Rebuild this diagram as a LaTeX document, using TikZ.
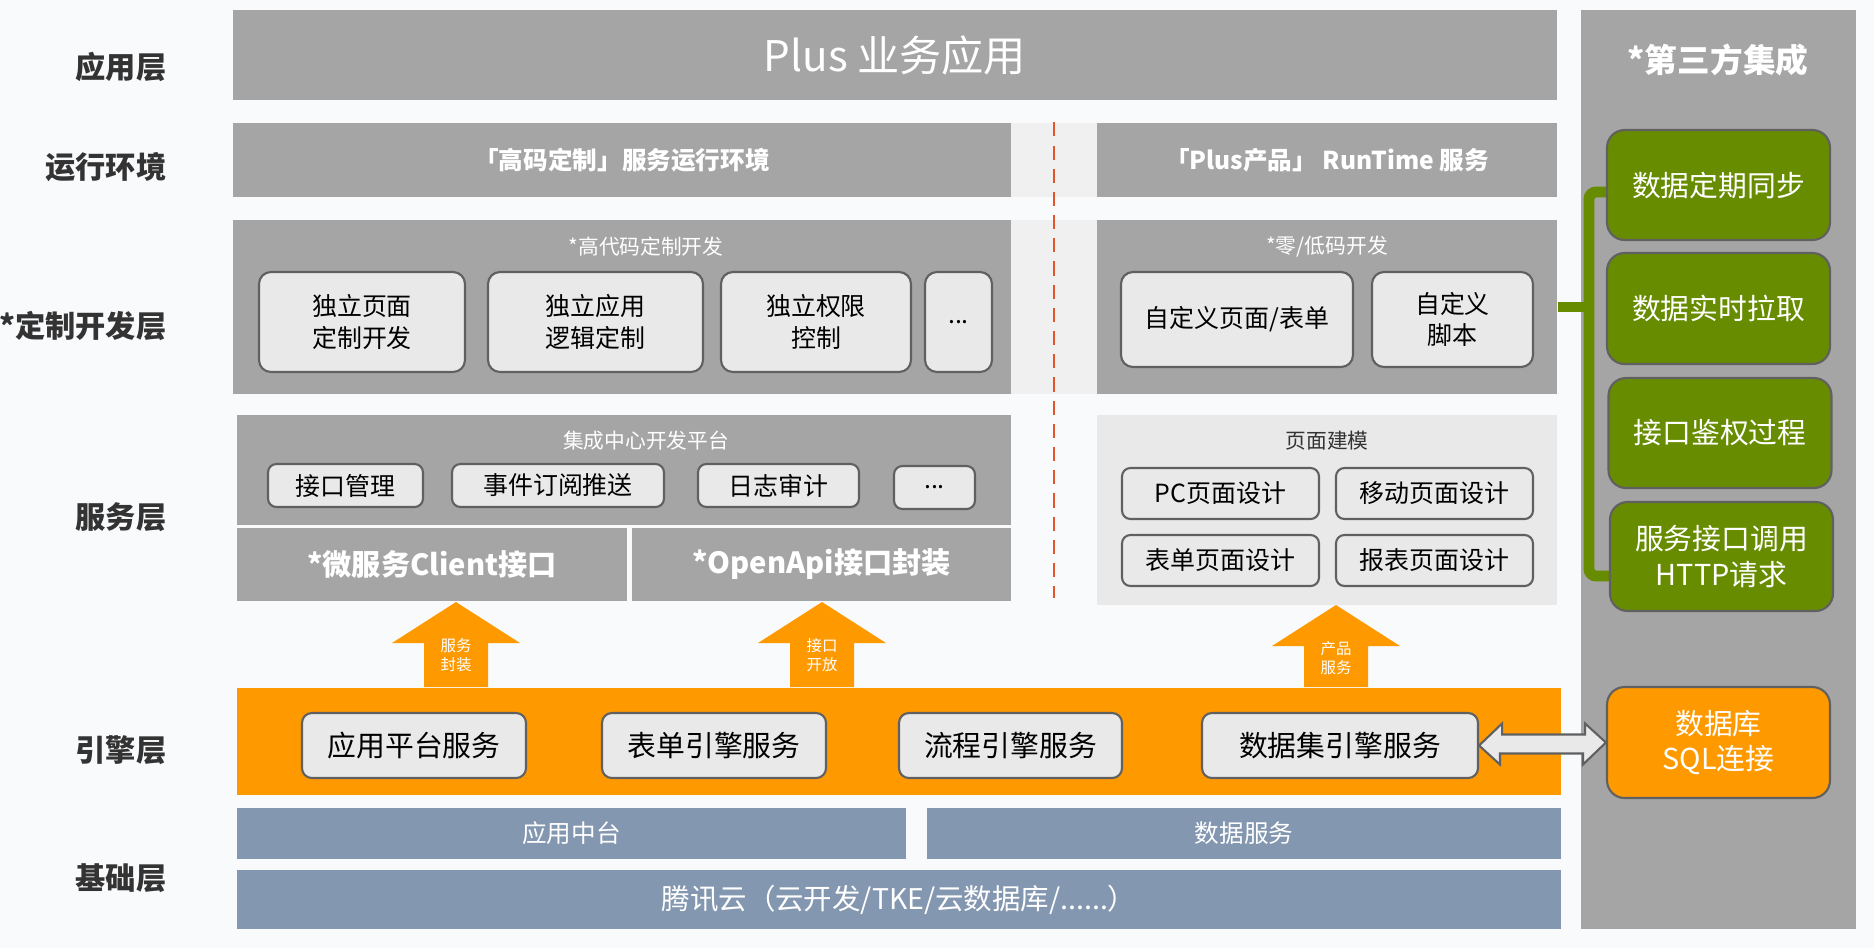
\documentclass[tikz,border=0pt]{standalone}
\usepackage{fontspec}
\setmainfont{Noto Sans CJK SC}
\usetikzlibrary{positioning,calc}
\definecolor{plbg}{RGB}{249,250,252}
\definecolor{plgray}{RGB}{165,165,165}
\definecolor{plstrip}{RGB}{240,240,240}
\definecolor{plcard}{RGB}{233,233,233}
\definecolor{plline}{RGB}{96,96,96}
\definecolor{plorange}{RGB}{255,153,0}
\definecolor{plblue}{RGB}{132,151,176}
\definecolor{plgreen}{RGB}{103,140,0}
\definecolor{pldash}{RGB}{226,84,42}
\definecolor{pltext}{RGB}{51,51,51}

\begin{document}
\begin{tikzpicture}[
  x=0.1mm,y=-0.1mm,
  layer/.style={anchor=east,inner sep=0pt,text=pltext,font=\fontsize{8.6}{10}\selectfont\bfseries},
  band/.style={fill=plgray,inner sep=0pt,text=white},
  strip/.style={fill=plstrip,inner sep=0pt},
  subtitle/.style={text=white,font=\fontsize{5.9}{7}\selectfont},
  card/.style={draw=plline,fill=plcard,line width=0.6pt,rounded corners=3.4pt,inner sep=0pt,
    align=center,text=black,font=\fontsize{7.1}{8.9}\selectfont},
  engine/.style={card,rounded corners=2.8pt,minimum height=6.5mm,font=\fontsize{8.2}{10}\selectfont},
  base/.style={fill=plblue,inner sep=0pt,text=white},
  third/.style={draw=plline,line width=0.6pt,rounded corners=5pt,inner sep=0pt,align=center,
    text=white,minimum width=22.3mm,font=\fontsize{8.2}{10}\selectfont},
  uparrow/.style={fill=plorange},
  arrowtag/.style={text=white,align=center,font=\fontsize{4.4}{5.4}\selectfont},
  sep/.style={draw=pldash,line width=0.6pt,dash pattern=on 4pt off 2.6pt},
  brk/.style={draw=plgreen,line width=3.1pt,rounded corners=2pt},
  dbl/.style={draw=plline,fill=plcard,line width=0.6pt}
]
  \useasboundingbox (0,0) rectangle (1874,948);
  \fill[plbg] (0,0) rectangle (1874,948);

  % layer names
  \node[layer] (lapp) at (167,67) {应用层};
  \node[layer] (lrun) at (167,167) {运行环境};
  \node[layer] (ldev) at (167,326) {*定制开发层};
  \node[layer] (lsrv) at (167,517) {服务层};
  \node[layer] (leng) at (167,750) {引擎层};
  \node[layer] (lbase) at (167,878) {基础层};

  % application
  \node[band,minimum width=132.4mm,minimum height=9mm,font=\fontsize{12}{14}\selectfont] (plus) at (895,55) {Plus 业务应用};

  % third party column
  \node[band,minimum width=27.5mm,minimum height=91.9mm] (tp) at (1718.5,469.5) {};
  \node[text=white,font=\fontsize{9.3}{11}\selectfont\bfseries] (tptitle) at (1718,60) {*第三方集成};

  % runtime
  \node[band,minimum width=77.8mm,minimum height=7.4mm,font=\fontsize{7}{8}\selectfont\bfseries] (rth) at (622,160) {「高码定制」服务运行环境};
  \node[strip,minimum width=8.6mm,minimum height=7.4mm] (gap1) at (1054,160) {};
  \node[band,minimum width=46mm,minimum height=7.4mm,font=\fontsize{7}{8}\selectfont\bfseries] (rtp) at (1327,160) {「Plus产品」 RunTime 服务};

  % custom development
  \node[band,minimum width=77.8mm,minimum height=17.4mm] (devh) at (622,307) {};
  \node[subtitle] (devhtitle) at (646,247) {*高代码定制开发};
  \node[strip,minimum width=8.6mm,minimum height=17.4mm] (gap2) at (1054,307) {};
  \node[band,minimum width=46mm,minimum height=17.4mm] (devz) at (1327,307) {};
  \node[subtitle] (devztitle) at (1327,247) {*零/低码开发};
  \node[card,minimum width=20.6mm,minimum height=10mm] (d1) at (362,322) {独立页面\\定制开发};
  \node[card,minimum width=21.5mm,minimum height=10mm] (d2) at (595.5,322) {独立应用\\逻辑定制};
  \node[card,minimum width=19mm,minimum height=10mm] (d3) at (816,322) {独立权限\\控制};
  \node[card,minimum width=6.7mm,minimum height=10mm] (d4) at (958.5,322) {...};
  \node[card,minimum width=23.2mm,minimum height=9.5mm] (z1) at (1237,319.5) {自定义页面/表单};
  \node[card,minimum width=16.1mm,minimum height=9.5mm] (z2) at (1452.5,319.5) {自定义\\脚本};

  % services
  \node[band,minimum width=77.4mm,minimum height=11mm] (icp) at (624,470) {};
  \node[subtitle] (icptitle) at (646,441) {集成中心开发平台};
  \node[card,rounded corners=2.4pt,minimum width=15.5mm,minimum height=4.3mm] (s1) at (345.5,485.5) {接口管理};
  \node[card,rounded corners=2.4pt,minimum width=21.2mm,minimum height=4.3mm] (s2) at (558,485.5) {事件订阅推送};
  \node[card,rounded corners=2.4pt,minimum width=16.1mm,minimum height=4.3mm] (s3) at (778.5,485.5) {日志审计};
  \node[card,rounded corners=2.4pt,minimum width=8.1mm,minimum height=4.3mm] (s4) at (934.5,487.5) {...};
  \node[band,minimum width=39mm,minimum height=7.3mm,font=\fontsize{8.3}{10}\selectfont\bfseries] (msc) at (432,564.5) {*微服务Client接口};
  \node[band,minimum width=37.9mm,minimum height=7.3mm,font=\fontsize{8.3}{10}\selectfont\bfseries] (oap) at (821.5,564.5) {*OpenApi接口封装};
  \node[fill=plcard,inner sep=0pt,minimum width=46mm,minimum height=19mm] (pm) at (1327,510) {};
  \node[text=pltext,font=\fontsize{5.9}{7}\selectfont] (pmtitle) at (1327,441) {页面建模};
  \node[card,rounded corners=2.4pt,minimum width=19.7mm,minimum height=5.1mm] (p1) at (1220.5,493.5) {PC页面设计};
  \node[card,rounded corners=2.4pt,minimum width=19.7mm,minimum height=5.1mm] (p2) at (1434.5,493.5) {移动页面设计};
  \node[card,rounded corners=2.4pt,minimum width=19.7mm,minimum height=5.1mm] (p3) at (1220.5,560.5) {表单页面设计};
  \node[card,rounded corners=2.4pt,minimum width=19.7mm,minimum height=5.1mm] (p4) at (1434.5,560.5) {报表页面设计};

  \coordinate (dend) at (1054,598);
  \draw[sep] (gap1.north) -- (dend);

  % engines
  \node[fill=plorange,inner sep=0pt,minimum width=132.4mm,minimum height=10.7mm] (eng) at (899,741.5) {};
  \node[engine,minimum width=22.4mm] (e1) at (414,745.5) {应用平台服务};
  \node[engine,minimum width=22.4mm] (e2) at (714,745.5) {表单引擎服务};
  \node[engine,minimum width=22.3mm] (e3) at (1010.5,745.5) {流程引擎服务};
  \node[engine,minimum width=27.6mm] (e4) at (1340,745.5) {数据集引擎服务};

  % up arrows
  \foreach \ax/\tip/\tag in {456/602/{服务\\封装},822/602/{接口\\开放},1336/605/{产品\\服务}}{
    \fill[uparrow] (\ax,\tip) -- ++(64,41) -- ++(-32,0) -- (\ax+32,687) -- (\ax-32,687)
      -- (\ax-32,\tip+41) -- (\ax-64,\tip+41) -- cycle;
    \node[arrowtag] at (\ax,\tip+53) {\tag};
  }

  % base
  \node[base,minimum width=66.9mm,minimum height=5.1mm,font=\fontsize{7}{8}\selectfont] (midp) at (571.5,833.5) {应用中台};
  \node[base,minimum width=63.4mm,minimum height=5.1mm,font=\fontsize{7}{8}\selectfont] (dsvc) at (1244,833.5) {数据服务};
  \node[base,minimum width=132.4mm,minimum height=5.9mm,font=\fontsize{8.1}{9}\selectfont] (cloud) at (899,899.5) {腾讯云（云开发/TKE/云数据库/......）};

  % third party links
  \coordinate (bt) at (1589,192);
  \coordinate (bb) at (1589,576);
  \draw[brk] (devz.east) -- (devz.east -| bt);
  \draw[brk] (1618,192) -- (bt) -- (bb) -- (1618,576);
  \node[third,fill=plgreen,minimum height=11mm] (g1) at (1718.5,185) {数据定期同步};
  \node[third,fill=plgreen,minimum height=11.1mm] (g2) at (1718.5,308.5) {数据实时拉取};
  \node[third,fill=plgreen,minimum height=11mm] (g3) at (1720,433) {接口鉴权过程};
  \node[third,fill=plgreen,minimum height=10.9mm] (g4) at (1721.5,556.5) {服务接口调用\\HTTP请求};
  \node[third,fill=plorange,minimum height=11.1mm] (db) at (1718.5,742.5) {数据库\\SQL连接};

  \draw[dbl] (e4.east) -- ++(23,-22) -- ++(0,11) -- ++(83,0) -- ++(0,-11) -- (db.west)
    -- ++(-23,22) -- ++(0,-11) -- ++(-83,0) -- ++(0,11) -- cycle;
\end{tikzpicture}
\end{document}
